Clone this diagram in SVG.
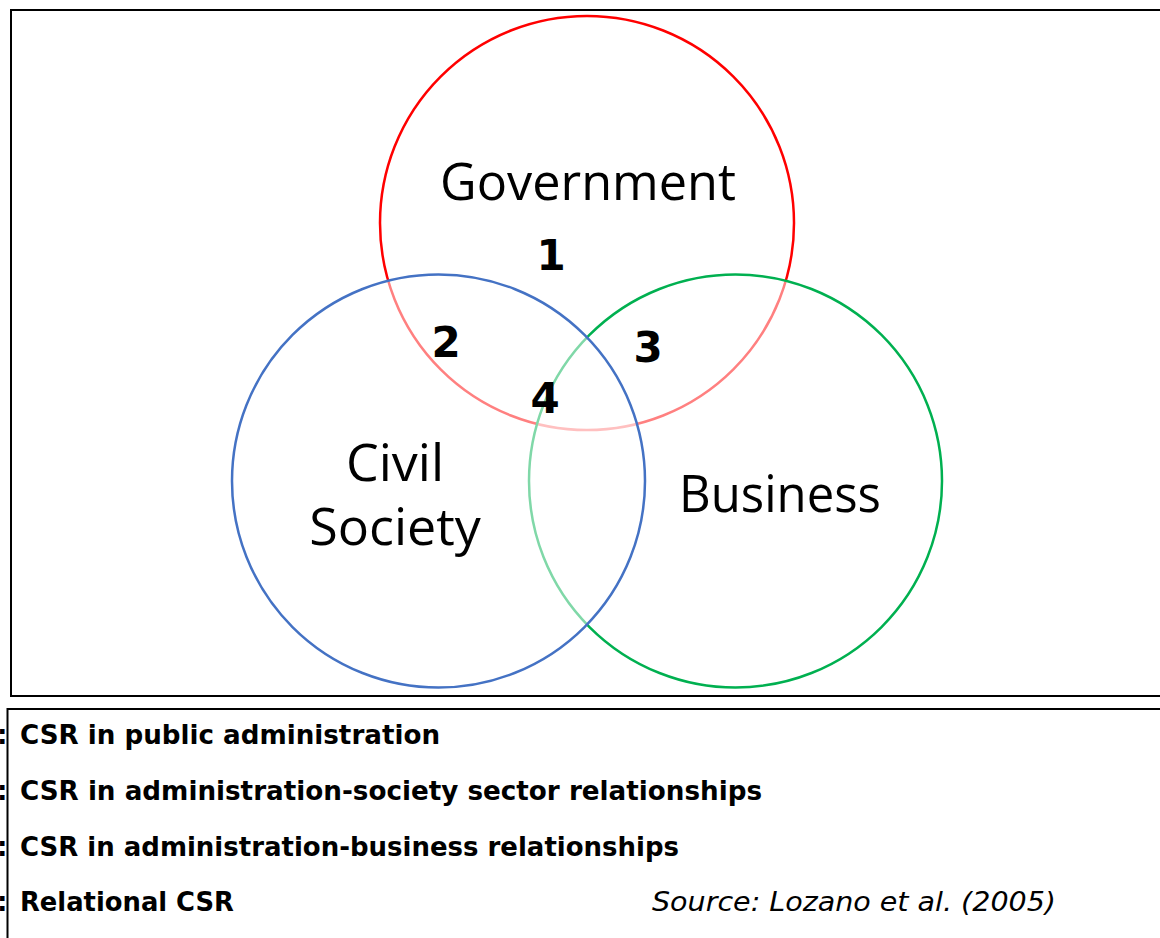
<svg xmlns="http://www.w3.org/2000/svg" width="1160" height="938" viewBox="0 0 1160 938">
  <style>
    .frame { fill: none; stroke: #000; stroke-width: 2; }
    .set { fill: #fff; fill-opacity: 0.5; stroke-width: 2.5; }
    .label { font-family: "Open Sans", "Noto Sans", sans-serif; font-size: 52px; fill: #000; text-anchor: middle; }
    .num { font-family: "DejaVu Sans", "Liberation Sans", sans-serif; font-weight: bold; font-size: 42px; fill: #000; text-anchor: middle; }
    .key { font-family: "DejaVu Sans", "Liberation Sans", sans-serif; font-weight: bold; font-size: 26px; fill: #000; }
    .src { font-family: "DejaVu Sans", "Liberation Sans", sans-serif; font-style: italic; font-size: 26px; fill: #000; }
  </style>
  <rect width="1160" height="938" fill="#fff"/>

  <!-- outer frames -->
  <rect class="frame" x="11" y="10" width="1160" height="686"/>
  <rect class="frame" x="7.5" y="709" width="1160" height="240"/>

  <!-- Venn sets: later circles veil the strokes they overlap -->
  <g id="government">
    <circle class="set" cx="587" cy="223" r="207" stroke="#FF0000"/>
  </g>
  <g id="business">
    <circle class="set" cx="735.5" cy="481" r="206.5" stroke="#00B050"/>
  </g>
  <g id="civil-society">
    <circle class="set" cx="438.5" cy="481" r="206.5" stroke="#4472C4"/>
  </g>
  <g id="connectors"/>

  <!-- set names -->
  <text class="label" x="588" y="200" textLength="296" lengthAdjust="spacingAndGlyphs">Government</text>
  <text class="label" x="395" y="481">Civil</text>
  <text class="label" x="395" y="545">Society</text>
  <text class="label" x="780" y="512" textLength="202" lengthAdjust="spacingAndGlyphs">Business</text>

  <!-- region numbers -->
  <g id="regions">
    <text class="num" x="551" y="270">1</text>
    <text class="num" x="446" y="357">2</text>
    <text class="num" x="648" y="362">3</text>
    <text class="num" x="545" y="413">4</text>
  </g>

  <!-- key -->
  <g id="key">
    <text class="key" x="-3" y="744">:</text>
    <text class="key" x="20" y="744" textLength="420" lengthAdjust="spacingAndGlyphs">CSR in public administration</text>
    <text class="key" x="-3" y="800">:</text>
    <text class="key" x="20" y="800" textLength="742" lengthAdjust="spacingAndGlyphs">CSR in administration-society sector relationships</text>
    <text class="key" x="-3" y="856">:</text>
    <text class="key" x="20" y="856" textLength="659" lengthAdjust="spacingAndGlyphs">CSR in administration-business relationships</text>
    <text class="key" x="-3" y="911">:</text>
    <text class="key" x="20" y="911" textLength="214" lengthAdjust="spacingAndGlyphs">Relational CSR</text>
    <text class="src" x="652" y="911" textLength="404" lengthAdjust="spacingAndGlyphs">Source: Lozano et al. (2005)</text>
  </g>
</svg>
